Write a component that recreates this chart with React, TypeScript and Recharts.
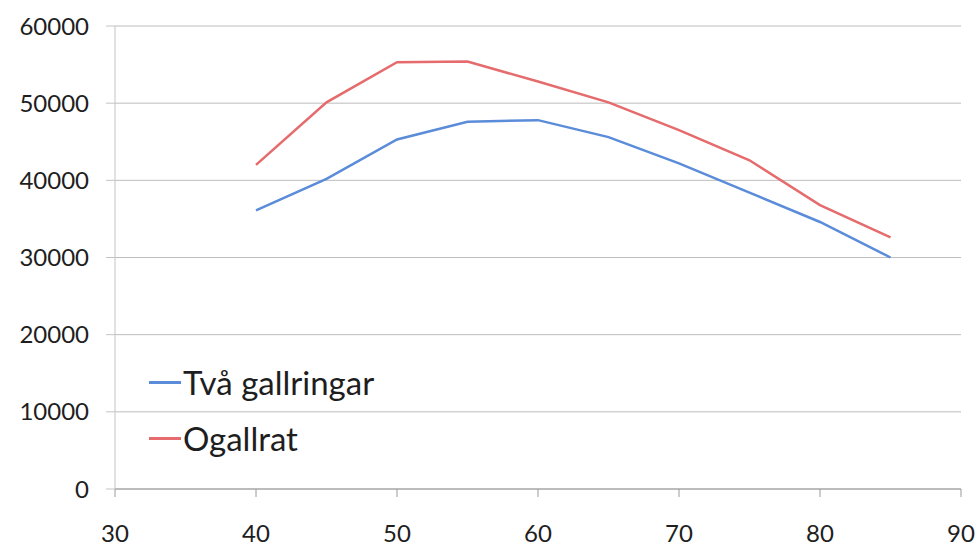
import React from 'react';
import { LineChart, Line, XAxis, YAxis, CartesianGrid } from 'recharts';

const ages = [40, 45, 50, 55, 60, 65, 70, 75, 80, 85];
const tvaGallringar = [36100, 40200, 45300, 47600, 47800, 45600, 42200, 38400, 34600, 30000];
const ogallrat = [42000, 50100, 55300, 55400, 52800, 50100, 46500, 42600, 36800, 32600];
const xTicks = [30, 40, 50, 60, 70, 80, 90];
const yTicks = [0, 10000, 20000, 30000, 40000, 50000, 60000];
const seriesNames = ['Två gallringar', 'Ogallrat'];
const seriesColors = ['#5b8cd9', '#e56b6d'];

const data = ages.map((a, i) => ({ age: a, tva: tvaGallringar[i], ogallrat: ogallrat[i] }));

const FONT = 'Lato, "Open Sans", sans-serif';

export default function App() {
  return (
    <div style={{ position: 'absolute', left: 0, top: 0, width: 980, height: 547, background: '#fff' }}>
      <LineChart width={980} height={547} data={data} margin={{ top: 26, right: 19, bottom: 0, left: 0 }}>
        <CartesianGrid vertical={false} stroke="#bdbdbd" strokeWidth={1} />
        <XAxis
          dataKey="age"
          type="number"
          domain={[30, 90]}
          ticks={xTicks}
          tickSize={8}
          tickMargin={28}
          stroke="#9a9a9a"
          tick={{ fill: '#1e1e1e', fontSize: 24, fontFamily: FONT }}
          height={58}
        />
        <YAxis
          type="number"
          domain={[0, 60000]}
          ticks={yTicks}
          width={115}
          tickSize={9}
          tickMargin={17}
          stroke="#c4c4c4"
          tick={{ fill: '#1e1e1e', fontSize: 24, fontFamily: FONT }}
        />
        <Line type="linear" dataKey="tva" name={seriesNames[0]} stroke={seriesColors[0]} strokeWidth={2.5} dot={false} isAnimationActive={false} />
        <Line type="linear" dataKey="ogallrat" name={seriesNames[1]} stroke={seriesColors[1]} strokeWidth={2.5} dot={false} isAnimationActive={false} />
      </LineChart>
      <div style={{ position: 'absolute', left: 149, top: 354, fontFamily: FONT, fontSize: 33, color: '#1e1e1e' }}>
        {seriesNames.map((n, i) => (
          <div key={n} style={{ display: 'flex', alignItems: 'center', height: 56 }}>
            <div style={{ width: 32, height: 3, background: seriesColors[i], marginRight: 2 }} />
            <span>{n}</span>
          </div>
        ))}
      </div>
    </div>
  );
}
